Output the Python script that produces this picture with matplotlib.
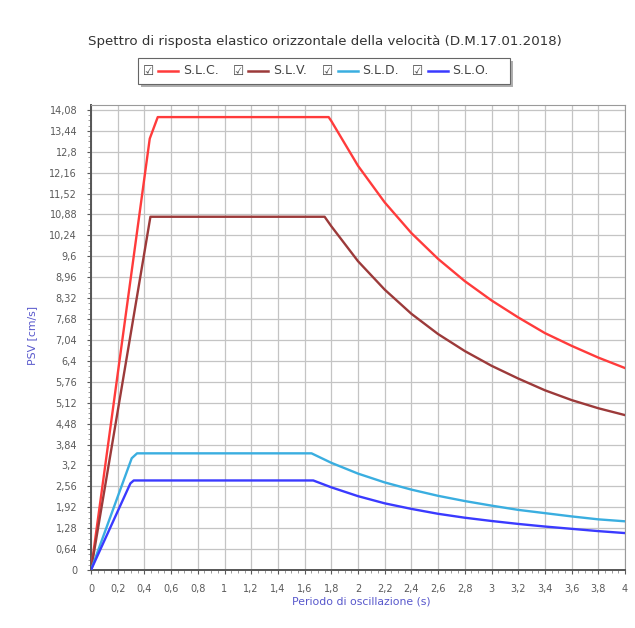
import matplotlib
matplotlib.use("Agg")
import matplotlib.pyplot as plt
from matplotlib.patches import Rectangle
from matplotlib.ticker import FixedLocator, MultipleLocator

# ---- data ----
T_slc = [0, 0.44, 0.50, 1.78, 1.8, 2.0, 2.2, 2.4, 2.6, 2.8, 3.0, 3.2, 3.4, 3.6, 3.8, 4.0]
V_slc = [0, 13.2, 13.86, 13.86, 13.74, 12.37, 11.25, 10.31, 9.52, 8.84, 8.25, 7.73, 7.25, 6.86, 6.50, 6.18]

T_slv = [0, 0.445, 1.75, 1.8, 2.0, 2.2, 2.4, 2.6, 2.8, 3.0, 3.2, 3.4, 3.6, 3.8, 4.0]
V_slv = [0, 10.81, 10.81, 10.52, 9.45, 8.58, 7.84, 7.22, 6.70, 6.25, 5.86, 5.50, 5.20, 4.95, 4.74]

T_sld = [0, 0.305, 0.345, 1.652, 1.8, 2.0, 2.2, 2.4, 2.6, 2.8, 3.0, 3.2, 3.4, 3.6, 3.8, 4.0]
V_sld = [0, 3.42, 3.57, 3.57, 3.28, 2.95, 2.68, 2.46, 2.27, 2.11, 1.97, 1.84, 1.74, 1.64, 1.55, 1.49]

T_slo = [0, 0.295, 0.32, 1.665, 1.8, 2.0, 2.2, 2.4, 2.6, 2.8, 3.0, 3.2, 3.4, 3.6, 3.8, 4.0]
V_slo = [0, 2.65, 2.74, 2.74, 2.53, 2.26, 2.04, 1.87, 1.72, 1.60, 1.50, 1.41, 1.33, 1.26, 1.19, 1.13]

series_names = ["S.L.C.", "S.L.V.", "S.L.D.", "S.L.O."]
series_colors = ["#ff3b3b", "#9c3a3a", "#3aaee0", "#3a3aff"]

y_ticks = [0, 0.64, 1.28, 1.92, 2.56, 3.2, 3.84, 4.48, 5.12, 5.76, 6.4, 7.04, 7.68,
           8.32, 8.96, 9.6, 10.24, 10.88, 11.52, 12.16, 12.8, 13.44, 14.08]
y_labels = ["0", "0,64", "1,28", "1,92", "2,56", "3,2", "3,84", "4,48", "5,12", "5,76",
            "6,4", "7,04", "7,68", "8,32", "8,96", "9,6", "10,24", "10,88", "11,52",
            "12,16", "12,8", "13,44", "14,08"]
x_ticks = [0, 0.2, 0.4, 0.6, 0.8, 1, 1.2, 1.4, 1.6, 1.8, 2, 2.2, 2.4, 2.6, 2.8, 3,
           3.2, 3.4, 3.6, 3.8, 4]
x_labels = ["0", "0,2", "0,4", "0,6", "0,8", "1", "1,2", "1,4", "1,6", "1,8", "2",
            "2,2", "2,4", "2,6", "2,8", "3", "3,2", "3,4", "3,6", "3,8", "4"]

title = "Spettro di risposta elastico orizzontale della velocità (D.M.17.01.2018)"
xlabel = "Periodo di oscillazione (s)"
ylabel = "PSV [cm/s]"

# ---- figure ----
W, H = 635, 628
fig = plt.figure(figsize=(W / 100, H / 100), dpi=100)
fig.patch.set_facecolor("white")

L, R, TOP, BOT = 91, 625, 105, 570
ax = fig.add_axes([L / W, 1 - BOT / H, (R - L) / W, (BOT - TOP) / H])

data = [(T_slc, V_slc), (T_slv, V_slv), (T_sld, V_sld), (T_slo, V_slo)]
for (t, v), c in zip(data, series_colors):
    ax.plot(t, v, color=c, lw=1.7, solid_joinstyle="round", zorder=3)

ax.set_xlim(0, 4)
ax.set_ylim(0, 14.23)
ax.xaxis.set_major_locator(FixedLocator(x_ticks))
ax.set_xticklabels(x_labels)
ax.yaxis.set_major_locator(FixedLocator(y_ticks))
ax.set_yticklabels(y_labels)
ax.xaxis.set_minor_locator(MultipleLocator(0.05))
ax.yaxis.set_minor_locator(MultipleLocator(0.16))

ax.grid(True, which="major", color="#c4c4c4", lw=0.9, zorder=0)
ax.set_axisbelow(True)
ax.tick_params(which="major", labelsize=7, colors="#5a5a5a", length=3, width=0.8)
ax.tick_params(which="minor", length=2, width=0.6, colors="#8a8a8a")
ax.tick_params(axis="x", pad=7)
ax.tick_params(axis="y", pad=7)
for s in ["top", "right"]:
    ax.spines[s].set_color("#9a9a9a")
    ax.spines[s].set_linewidth(0.8)
for s in ["left", "bottom"]:
    ax.spines[s].set_color("#555555")
    ax.spines[s].set_linewidth(1.4)

# title and axis labels
fig.text(325 / W, 1 - 42 / H, title, ha="center", va="center", fontsize=9.6, color="#333333")
fig.text(361 / W, 1 - 601 / H, xlabel, ha="center", va="center", fontsize=7.8, color="#5858cc")
fig.text(32 / W, 1 - 335 / H, ylabel, ha="center", va="center", fontsize=7.8,
         color="#5858cc", rotation=90)

# legend box with shadow
bx0, bx1, by0, by1 = 138, 510, 58, 84
fig.patches.append(Rectangle((bx0 / W + 3 / W, 1 - (by1 + 3) / H), (bx1 - bx0) / W, (by1 - by0) / H,
                             transform=fig.transFigure, facecolor="#7a7a7a", edgecolor="none",
                             alpha=0.6, zorder=1))
fig.patches.append(Rectangle((bx0 / W, 1 - by1 / H), (bx1 - bx0) / W, (by1 - by0) / H,
                             transform=fig.transFigure, facecolor="white", edgecolor="#666666",
                             lw=0.8, zorder=2))
ly = 1 - 71 / H
box_x = [149, 239, 328, 418]
line_x = [(158, 178), (248, 268), (338, 358), (428, 448)]
text_x = [183, 273, 362, 452]
for name, c, bxp, (lx0, lx1), tx in zip(series_names, series_colors, box_x, line_x, text_x):
    fig.text(bxp / W, ly, "\u2611", ha="center", va="center", fontsize=9, color="#444444", zorder=3)
    fig.lines.append(plt.Line2D([lx0 / W, lx1 / W], [ly, ly], transform=fig.transFigure,
                                color=c, lw=1.8, zorder=3))
    fig.text(tx / W, ly, name, ha="left", va="center", fontsize=9, color="#444444", zorder=3)

fig.savefig("out.png", dpi=100)
